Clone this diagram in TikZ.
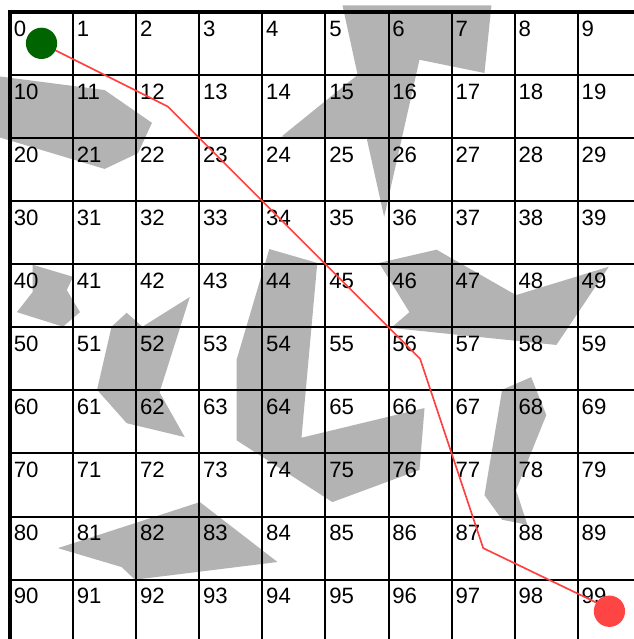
\documentclass[tikz,border=0pt]{standalone}
\usepackage{fontspec}
\setmainfont{Liberation Sans}
\definecolor{obstgray}{RGB}{179,179,179}
\definecolor{pathred}{RGB}{255,64,64}
\definecolor{startgreen}{RGB}{0,100,0}
\definecolor{goalred}{RGB}{255,68,68}
\begin{document}
\begin{tikzpicture}[line width=0.9pt, every node/.style={font=\fontsize{10}{12}\selectfont},
  obstacle/.style={fill=obstgray},
  celllabel/.style={anchor=base west, inner sep=0pt}]
  \clip (-0.158,0.187) rectangle (9.889,-9.940);
  % Obstacles (grey polygons)
  \fill[obstacle] (-0.2,-1.02) -- (1.50,-1.24) -- (2.25,-1.76) -- (2.03,-2.24)
    -- (1.50,-2.49) -- (-0.2,-1.98) -- cycle;
  \fill[obstacle] (5.27,0.1) -- (5.51,-1.00) -- (4.30,-1.98) -- (5.65,-1.99)
    -- (5.93,-3.25) -- (6.49,-0.76) -- (7.52,-0.97) -- (7.63,0.1) -- cycle;
  \fill[obstacle] (0.36,-4.01) -- (1.00,-4.20) -- (0.90,-4.41) -- (1.11,-4.76)
    -- (0.84,-4.99) -- (0.11,-4.76) -- (0.36,-4.44) -- cycle;
  \fill[obstacle] (1.85,-4.77) -- (2.10,-4.99) -- (2.85,-4.52) -- (2.37,-6.03)
    -- (2.77,-6.74) -- (1.85,-6.52) -- (1.38,-5.99) -- (1.61,-4.99) -- cycle;
  \fill[obstacle] (4.11,-3.76) -- (4.87,-3.98) -- (4.62,-6.75) -- (6.57,-6.28)
    -- (6.49,-7.26) -- (5.11,-7.77) -- (3.59,-6.79) -- (3.59,-5.52) -- cycle;
  \fill[obstacle] (5.85,-3.98) -- (6.76,-3.77) -- (8.02,-4.49) -- (9.49,-4.04)
    -- (8.66,-5.28) -- (6.04,-5.01) -- (6.33,-4.76) -- cycle;
  \fill[obstacle] (7.80,-5.99) -- (8.26,-5.79) -- (8.50,-6.39) -- (8.02,-7.58)
    -- (8.20,-8.13) -- (7.80,-8.05) -- (7.52,-7.66) -- cycle;
  \fill[obstacle] (0.76,-8.50) -- (3.01,-7.77) -- (4.24,-8.72) -- (1.98,-9.00)
    -- (1.77,-8.80) -- cycle;
  % Grid and frame
  \draw (0,0) grid (10,-10);
  \draw[line width=1.8pt] (0,0) rectangle (10,-10);
  % Cell numbers
  \foreach \r in {0,...,9}
    \foreach \c in {0,...,9} {
      \pgfmathtruncatemacro{\idx}{10*\r+\c}
      \node[celllabel] (c\idx) at (\c+0.045,-\r-0.385) {\idx};
    }
  % Path from start to goal
  \coordinate (start) at (0.5,-0.5);
  \coordinate (goal) at (9.5,-9.5);
  \coordinate (w1) at (2.5,-1.5);
  \coordinate (w2) at (6.5,-5.5);
  \coordinate (w3) at (7.5,-8.5);
  \coordinate (w4) at (9.37,-9.40);
  \draw[pathred, line width=0.75pt] (start) -- (w1) -- (w2) -- (w3) -- (w4);
  \fill[startgreen] (start) circle (0.248);
  \fill[goalred] (goal) circle (0.248);
\end{tikzpicture}
\end{document}
